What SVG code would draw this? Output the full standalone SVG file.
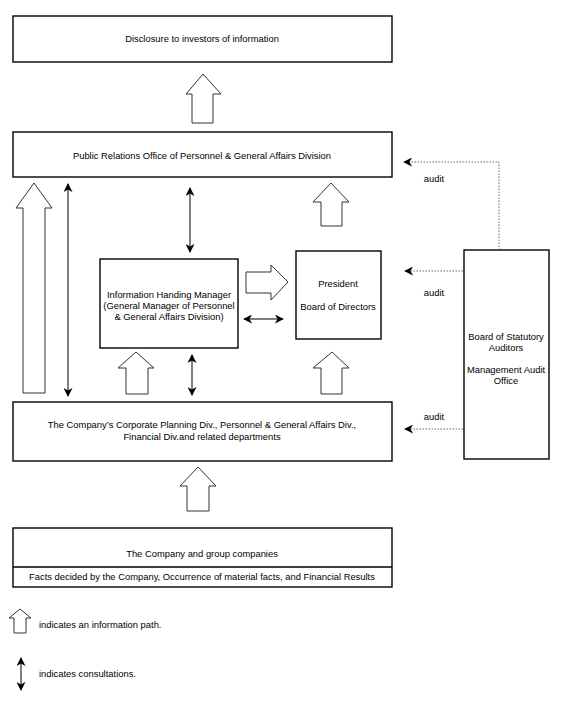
<svg xmlns="http://www.w3.org/2000/svg" width="563" height="701" viewBox="0 0 563 701">
<style>
.box{fill:#fff;stroke:#000;stroke-width:1.4}
.fat{fill:#fff;stroke:#333;stroke-width:1}
.con{fill:none;stroke:#000;stroke-width:1}
.dot{fill:none;stroke:#666;stroke-width:1;stroke-dasharray:1.5 1.5}
text{font-family:"Liberation Sans",Arial,sans-serif;font-size:9.4px;fill:#000;text-anchor:middle;dominant-baseline:central}
.l{text-anchor:start}
</style>
<defs>
<marker id="ah" viewBox="0 0 10 10" refX="9" refY="5" markerWidth="9" markerHeight="9" markerUnits="userSpaceOnUse" orient="auto-start-reverse">
<path d="M0,0 L10,5 L0,10 L3,5 Z" fill="#000"/>
</marker>
</defs>
<rect width="563" height="701" fill="#fff"/>
<g id="disclosure"><rect class="box" x="13" y="16" width="379" height="46"/><text x="202" y="38">Disclosure to investors of information</text></g>
<g id="pr"><rect class="box" x="13" y="132" width="379" height="45"/><text x="202" y="155">Public Relations Office of Personnel &amp; General Affairs Division</text></g>
<g id="ihm"><rect class="box" x="100" y="259" width="138" height="89"/><text x="169" y="294">Information Handing Manager</text><text x="169" y="305">(General Manager of Personnel</text><text x="169" y="316">&amp; General Affairs Division)</text></g>
<g id="president"><rect class="box" x="296" y="251" width="85" height="88"/><text x="338" y="283">President</text><text x="338" y="306">Board of Directors</text></g>
<g id="auditors"><rect class="box" x="464" y="250" width="85" height="209"/><text x="506" y="336">Board of Statutory</text><text x="506" y="347">Auditors</text><text x="506" y="369">Management Audit</text><text x="506" y="380">Office</text></g>
<g id="corp"><rect class="box" x="13" y="402" width="379" height="59"/><text x="202" y="424">The Company’s Corporate Planning Div., Personnel &amp; General Affairs Div.,</text><text x="202" y="436">Financial Div.and related departments</text></g>
<g id="company"><rect class="box" x="13" y="528" width="379" height="59"/><line class="box" x1="13" y1="567" x2="392" y2="567"/><text x="202" y="553">The Company and group companies</text><text x="202" y="576">Facts decided by the Company, Occurrence of material facts, and Financial Results</text></g>
<g id="connectors">
<path class="fat" d="M203,74 L221,94 L213,94 L213,123 L192,123 L192,94 L186,94 Z"/>
<path class="fat" d="M34,183 L52,208 L45,208 L45,393 L23,393 L23,208 L16,208 Z"/>
<path class="fat" d="M331,183 L349,202 L342,202 L342,226 L321,226 L321,202 L313,202 Z"/>
<path class="fat" d="M288,282 L271,300 L271,293 L246,293 L246,272 L271,272 L271,265 Z"/>
<path class="fat" d="M136,352 L154,368 L148,368 L148,394 L126,394 L126,368 L118,368 Z"/>
<path class="fat" d="M332,352 L349,368 L342,368 L342,394 L321,394 L321,368 L313,368 Z"/>
<path class="fat" d="M198,467 L216,486 L209,486 L209,511 L187,511 L187,486 L180,486 Z"/>
<line class="con" x1="68" y1="184" x2="68" y2="396" marker-start="url(#ah)" marker-end="url(#ah)"/>
<line class="con" x1="190" y1="188" x2="190" y2="252" marker-start="url(#ah)" marker-end="url(#ah)"/>
<line class="con" x1="244" y1="319" x2="283" y2="319" marker-start="url(#ah)" marker-end="url(#ah)"/>
<line class="con" x1="192" y1="355" x2="192" y2="395" marker-start="url(#ah)" marker-end="url(#ah)"/>
<path class="dot" d="M499,250 L499,162 L404,162" marker-end="url(#ah)"/>
<line class="dot" x1="463" y1="271" x2="405" y2="271" marker-end="url(#ah)"/>
<line class="dot" x1="463" y1="429" x2="405" y2="429" marker-end="url(#ah)"/>
<text x="434" y="178">audit</text>
<text x="434" y="292">audit</text>
<text x="434" y="416">audit</text>
</g>
<g id="legend">
<path class="fat" d="M20,609 L31,618 L26,618 L26,633 L14,633 L14,618 L9,618 Z"/>
<line class="con" x1="21" y1="658" x2="21" y2="690" marker-start="url(#ah)" marker-end="url(#ah)"/>
<text class="l" x="39" y="624">indicates an information path.</text>
<text class="l" x="39" y="673">indicates consultations.</text>
</g>
</svg>
